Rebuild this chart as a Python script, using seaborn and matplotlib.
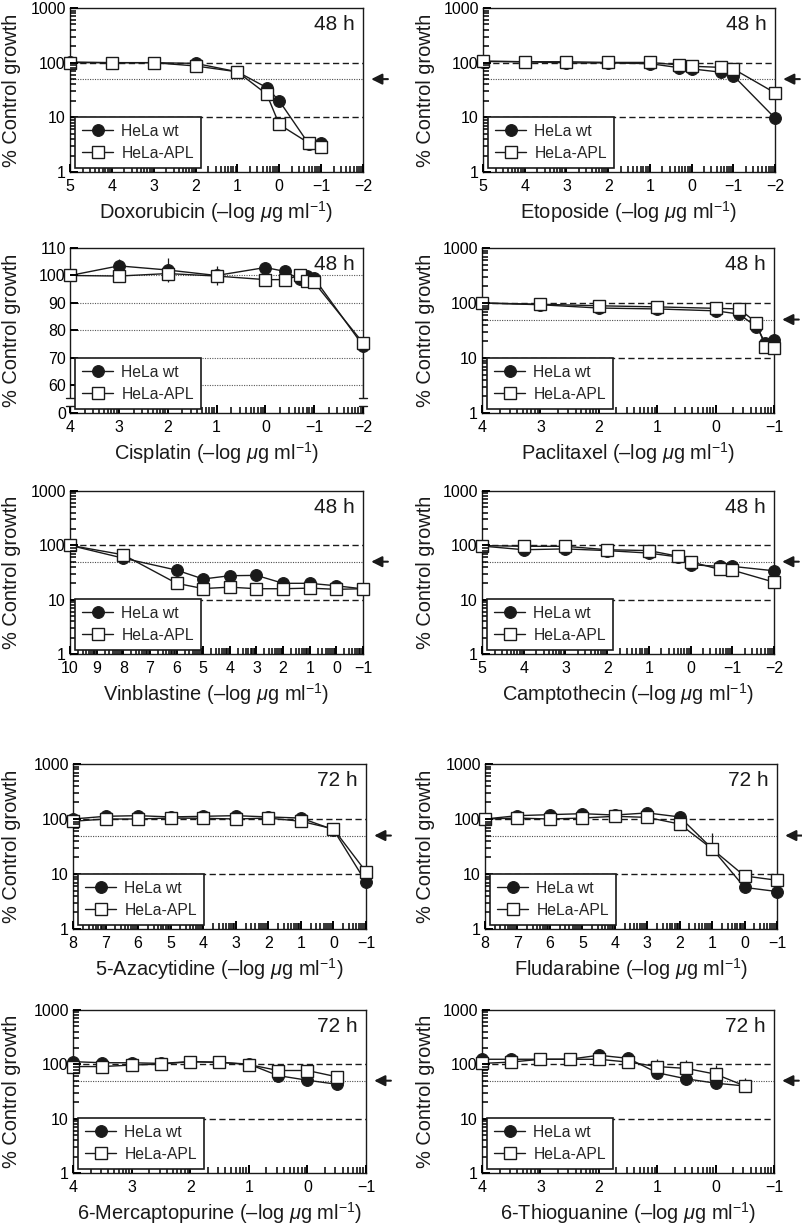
import numpy as np
import matplotlib
matplotlib.use("Agg")
import matplotlib.pyplot as plt
import seaborn as sns
from matplotlib.ticker import FixedLocator, NullFormatter, LogLocator

# ---------------- data (x = -log ug/ml, y = % control growth) ----------------
dox_x = [5, 4, 3, 2, 1, 0.3, 0, -0.7, -1]
dox_wt = [103, 100, 100, 97, 68, 35, 20, 3.3, 3.4]
dox_apl = [100, 100, 100, 87, 68, 26.5, 7.4, 3.4, 2.9]

eto_x = [5, 4, 3, 2, 1, 0.3, 0, -0.7, -1, -2]
eto_wt = [105, 104, 99, 99, 96, 81, 77, 67, 58, 9.7]
eto_apl = [107, 104, 104, 101, 101, 91, 86, 82, 77, 28]

cis_x = [4, 3, 2, 1, 0, -0.4, -0.7, -0.85, -1, -2]
cis_wt = [100, 103.5, 102, 100, 102.9, 101.5, 98.6, 99.8, 99, 74.5]
cis_apl = [100, 99.8, 100.7, 99.8, 98.5, 98.5, 100, 98.1, 97.5, 75.5]
cis_wt_err_lo = [0, 2.5, 4.3, 3.3, 0, 0, 0, 0, 0, 19]
cis_wt_err_hi = [0, 2.5, 4.3, 3.3, 0, 0, 0, 0, 0, 0]

pac_x = [4, 3, 2, 1, 0, -0.4, -0.7, -0.85, -1]
pac_wt = [100, 93, 81, 78, 72, 63, 37, 19, 21]
pac_apl = [100, 95, 89, 85, 80, 78, 44, 16, 15.5]

vin_x = [10, 8, 6, 5, 4, 3, 2, 1, 0, -1]
vin_wt = [100, 58, 35, 24, 27.6, 28, 20, 20, 18, 15.8]
vin_apl = [100, 67, 20, 16, 17, 15.9, 15.9, 16.3, 15.5, 15.9]

cam_x = [5, 4, 3, 2, 1, 0.3, 0, -0.7, -1, -2]
cam_wt = [97, 83, 86, 80, 72, 61, 44, 41, 41, 34]
cam_apl = [99, 96, 96, 83, 80, 63, 50, 36, 35, 21]

aza_x = [8, 7, 6, 5, 4, 3, 2, 1, 0, -1]
aza_wt = [100, 112, 115, 109, 112, 115, 109, 104, 64, 7.1]
aza_apl = [91, 100, 100, 104, 103, 100, 104, 91, 66, 11]

flu_x = [8, 7, 6, 5, 4, 3, 2, 1, 0, -1]
flu_wt = [100, 115, 120, 125, 118, 129, 109, 29, 5.7, 4.8]
flu_apl = [100, 104, 100, 104, 112, 107, 81, 28.6, 9.2, 7.7]
flu_apl_err_hi = [0, 0, 0, 0, 0, 0, 0, 28, 2.5, 0]

mp_x = [4, 3.5, 3, 2.5, 2, 1.5, 1, 0.5, 0, -0.5]
mp_wt = [112, 107, 107, 104, 112, 109, 101, 62, 51, 43]
mp_apl = [91, 91, 97, 101, 112, 109, 99, 77, 77, 59]

tg_x = [4, 3.5, 3, 2.5, 2, 1.5, 1, 0.5, 0, -0.5]
tg_wt = [124, 124, 124, 124, 147, 129, 70, 54, 45, 40]
tg_apl = [104, 110, 124, 124, 124, 110, 91, 84, 66, 40]
tg_apl_err_hi = [0, 0, 0, 0, 0, 0, 33, 34, 31, 17]

drug_names = ["Doxorubicin", "Etoposide", "Cisplatin", "Paclitaxel", "Vinblastine",
              "Camptothecin", "5-Azacytidine", "Fludarabine", "6-Mercaptopurine",
              "6-Thioguanine"]
times = ["48 h"] * 6 + ["72 h"] * 4
series_labels = ["HeLa wt", "HeLa-APL"]

# ---------------- style ----------------
sns.set_theme(style="ticks")
plt.rcParams.update({
    "font.family": ["Liberation Sans", "DejaVu Sans"],
    "mathtext.fontset": "custom",
    "mathtext.rm": "Liberation Sans",
    "mathtext.it": "Liberation Sans:italic",
    "axes.unicode_minus": True,
    "axes.axisbelow": False,
    "xtick.bottom": True, "xtick.top": False,
    "ytick.left": True, "ytick.right": False,
    "xtick.direction": "in", "ytick.direction": "in",
})

W, H = 802, 1227
fig = plt.figure(figsize=(W / 100, H / 100), dpi=100)
fig.patch.set_facecolor("white")

rows = [(8, 172), (248, 413), (491, 654), (764, 929), (1010, 1173)]
lefts_l = [70, 70, 70, 73, 73]
lefts_r = [483, 482, 482, 485, 482]
AW_L, AW_R = 293, 292


def make_ax(left, top, bottom, width):
    return fig.add_axes([left / W, 1 - bottom / H, width / W, (bottom - top) / H])


def fmt(v):
    return str(v) if v >= 0 else "\u2212" + str(-v)


def setup_x(ax, xmax, xmin):
    ax.set_xlim(xmax, xmin)
    major = list(range(xmax, xmin - 1, -1))
    ax.xaxis.set_major_locator(FixedLocator(major))
    ax.set_xticklabels([fmt(v) for v in major])
    minor = []
    for n in range(xmin, xmax):
        for k in range(2, 10):
            minor.append(n + 1 - np.log10(k))
    ax.xaxis.set_minor_locator(FixedLocator(minor))
    ax.xaxis.set_minor_formatter(NullFormatter())


def style_ticks(ax):
    ax.tick_params(axis="both", which="both", direction="in", top=False, right=False,
                   bottom=True, left=True, color="black", labelcolor="black",
                   labelsize=11.5)
    ax.tick_params(axis="both", which="major", length=6, width=1.4)
    ax.tick_params(axis="both", which="minor", length=4, width=1.1)
    ax.tick_params(axis="x", which="major", pad=5)
    ax.tick_params(axis="y", which="major", pad=3)
    ax.xaxis.set_zorder(5)
    ax.yaxis.set_zorder(5)


def draw(ax, x, wt, apl, xr, name, tlabel, left_px, width, log=True,
         wt_err=None, apl_err=None, arrow=True):
    for sp in ax.spines.values():
        sp.set_visible(True)
        sp.set_color("k")
        sp.set_linewidth(1.0)
    ax.set_facecolor("white")
    if log:
        ax.set_yscale("log")
        ax.set_ylim(1, 1000)
        ax.yaxis.set_major_locator(FixedLocator([1, 10, 100, 1000]))
        ax.set_yticklabels(["1", "10", "100", "1000"])
        ax.yaxis.set_minor_locator(LogLocator(base=10, subs=np.arange(2, 10), numticks=20))
        ax.yaxis.set_minor_formatter(NullFormatter())
        ax.axhline(100, color="k", lw=1.0, ls=(0, (4.5, 2.5)), zorder=1)
        ax.axhline(10, color="k", lw=1.0, ls=(0, (4.5, 2.5)), zorder=1)
        ax.axhline(50, color="0.3", lw=0.8, ls=(0, (1, 1.2)), zorder=1)
    else:
        ax.yaxis.set_minor_locator(FixedLocator([]))
    setup_x(ax, *xr)

    sns.lineplot(x=x, y=wt, ax=ax, color="k", lw=1.0, marker="o", markersize=8.5,
                 markerfacecolor="k", markeredgecolor="k", estimator=None, sort=False,
                 label=series_labels[0], clip_on=False, zorder=3)
    sns.lineplot(x=x, y=apl, ax=ax, color="k", lw=1.0, marker="s", markersize=8,
                 markerfacecolor="white", markeredgecolor="k", markeredgewidth=1.0,
                 estimator=None, sort=False, label=series_labels[1], clip_on=False,
                 zorder=4)
    if wt_err is not None:
        ax.errorbar(x, wt, yerr=wt_err, fmt="none", ecolor="k", elinewidth=0.9,
                    capsize=0, zorder=2.5)
    if apl_err is not None:
        ax.errorbar(x, apl, yerr=apl_err, fmt="none", ecolor="k", elinewidth=0.9,
                    capsize=0, zorder=2.5)

    leg = ax.legend(loc="lower left", bbox_to_anchor=(0.017, 0.025), borderaxespad=0,
                    fontsize=11.3, frameon=True, fancybox=False, framealpha=1,
                    edgecolor="k", borderpad=0.45, handlelength=2.0,
                    handletextpad=0.5, labelspacing=0.45)
    leg.get_frame().set_linewidth(1.2)
    leg.set_zorder(6)

    ax.text(0.972, 0.955, tlabel, transform=ax.transAxes, ha="right", va="top",
            fontsize=15, color="k")
    ax.set_xlabel(name + r" (–log $\mu$g ml$^{-1}$)", fontsize=14.4, color="k")
    ax.set_ylabel("% Control growth", fontsize=14.4, color="k")
    ax.xaxis.set_label_coords(0.5, -0.165)
    ylab_right = 21 if left_px < 200 else 435
    ax.yaxis.set_label_coords((ylab_right - left_px) / width, 0.5)
    ax.yaxis.label.set_verticalalignment("bottom")

    if arrow:
        tr = ax.get_yaxis_transform()
        ax.annotate("", xy=(1.028, 50), xytext=(1.085, 50), xycoords=tr, textcoords=tr,
                    arrowprops=dict(arrowstyle="-|>", color="k", lw=1.5,
                                    mutation_scale=16, shrinkA=0, shrinkB=0),
                    annotation_clip=False)
    style_ticks(ax)


panels = [
    (dox_x, dox_wt, dox_apl, (5, -2)),
    (eto_x, eto_wt, eto_apl, (5, -2)),
    (cis_x, cis_wt, cis_apl, (4, -2)),
    (pac_x, pac_wt, pac_apl, (4, -1)),
    (vin_x, vin_wt, vin_apl, (10, -1)),
    (cam_x, cam_wt, cam_apl, (5, -2)),
    (aza_x, aza_wt, aza_apl, (8, -1)),
    (flu_x, flu_wt, flu_apl, (8, -1)),
    (mp_x, mp_wt, mp_apl, (4, -1)),
    (tg_x, tg_wt, tg_apl, (4, -1)),
]

for i, (x, wt, apl, xr) in enumerate(panels):
    r, c = divmod(i, 2)
    top, bottom = rows[r]
    left = lefts_l[r] if c == 0 else lefts_r[r]
    width = AW_L if c == 0 else AW_R
    ax = make_ax(left, top, bottom, width)
    if drug_names[i] == "Cisplatin":
        ax.set_ylim(50, 110)
        ax.yaxis.set_major_locator(FixedLocator([50, 60, 70, 80, 90, 100, 110]))
        ax.set_yticklabels(["0", "60", "70", "80", "90", "100", "110"])
        for g in [60, 70, 80, 90, 100]:
            ax.axhline(g, color="0.35", lw=0.8, ls=(0, (1, 1.2)), zorder=1)
        draw(ax, x, wt, apl, xr, drug_names[i], times[i], left, width, log=False,
             wt_err=[cis_wt_err_lo, cis_wt_err_hi], arrow=False)
        tr = ax.get_yaxis_transform()
        for xs in (0, 1):
            ax.plot([xs, xs], [52.7, 55.3], color="white", lw=3, transform=tr,
                    clip_on=False, zorder=7, solid_capstyle="butt")
            for yb in (52.4, 55.6):
                ax.plot([xs - 0.013, xs + 0.013], [yb, yb], color="k", lw=1.0,
                        transform=tr, clip_on=False, zorder=8)
    else:
        kw = {}
        if drug_names[i] == "Fludarabine":
            kw["apl_err"] = [[0] * len(x), flu_apl_err_hi]
        if drug_names[i] == "6-Thioguanine":
            kw["apl_err"] = [[0] * len(x), tg_apl_err_hi]
        draw(ax, x, wt, apl, xr, drug_names[i], times[i], left, width, **kw)

fig.savefig("out.png", dpi=100, facecolor="white")
